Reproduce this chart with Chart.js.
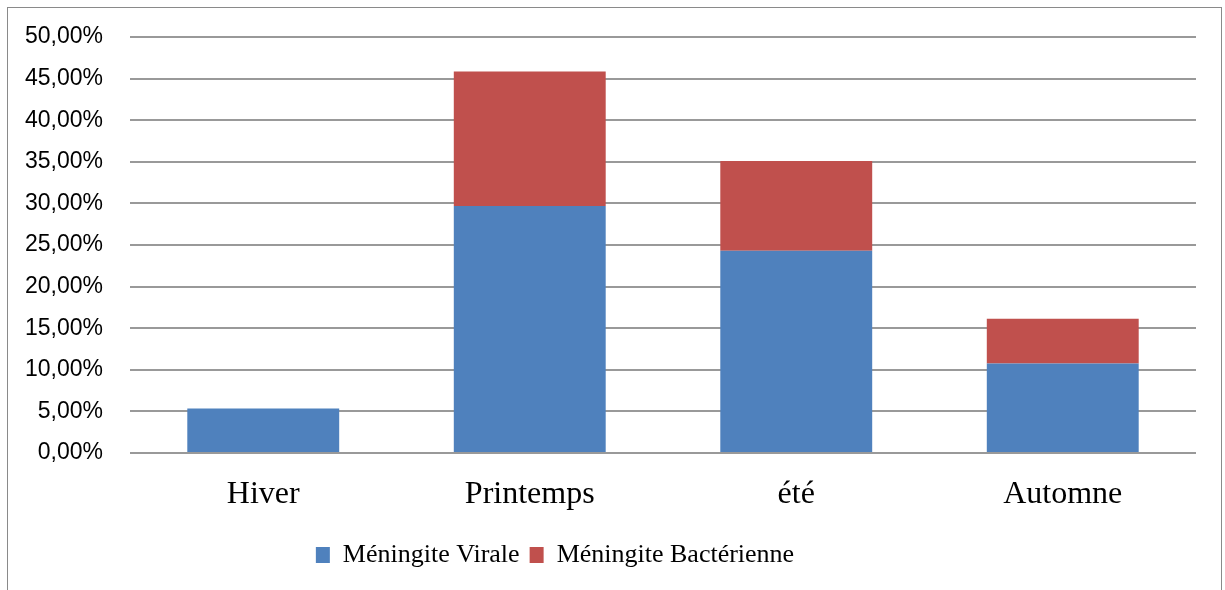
<!DOCTYPE html>
<html>
<head>
<meta charset="utf-8">
<script src="https://cdn.jsdelivr.net/npm/chart.js@4/dist/chart.umd.min.js"></script>
<style>
  html, body { margin: 0; padding: 0; background: #fff; }
  #wrap { position: relative; width: 1225px; height: 590px; overflow: hidden; }
  #frame {
    position: absolute; left: 7px; top: 7px; width: 1215px; height: 600px;
    border: 1.5px solid #8a8a8a; box-sizing: border-box;
  }
  #c { position: absolute; left: 0; top: 0; }
</style>
</head>
<body>
<div id="wrap">
  <div id="frame"></div>
  <canvas id="c" width="1225" height="590"></canvas>
</div>
<script>
// Saisons et répartition des cas (en %)
const saisons = ['Hiver', 'Printemps', 'été', 'Automne'];
const virale = [5.35, 29.7, 24.3, 10.75];
const bacterienne = [0, 16.15, 10.8, 5.4];
const yTicks = [0, 5, 10, 15, 20, 25, 30, 35, 40, 45, 50];

const fmtPct = v => v.toFixed(2).replace('.', ',') + '%';

// Décale la légende horizontalement après la mise en page
const legendShift = {
  id: 'legendShift',
  afterLayout(chart) {
    const lg = chart.legend;
    if (lg) { lg.left -= 43; lg.right -= 43; }
  }
};

new Chart(document.getElementById('c'), {
  type: 'bar',
  data: {
    labels: saisons,
    datasets: [
      { label: 'Méningite Virale', data: virale, backgroundColor: '#4F81BD', borderWidth: 0 },
      { label: 'Méningite Bactérienne', data: bacterienne, backgroundColor: '#C0504D', borderWidth: 0 }
    ]
  },
  options: {
    responsive: false,
    animation: false,
    layout: { padding: { top: 37, right: 29, bottom: 12, left: 0 } },
    datasets: { bar: { categoryPercentage: 1, barPercentage: 0.57 } },
    plugins: {
      tooltip: { enabled: false },
      legend: {
        position: 'bottom',
        align: 'center',
        labels: {
          boxWidth: 14,
          boxHeight: 16,
          padding: 10,
          color: '#000',
          font: { family: '"Liberation Serif", "Times New Roman", serif', size: 26 }
        }
      }
    },
    scales: {
      x: {
        stacked: true,
        grid: { display: false },
        border: { display: false },
        ticks: {
          color: '#000',
          padding: 14,
          font: { family: '"Liberation Serif", "Times New Roman", serif', size: 32 }
        },
        afterFit(scale) { scale.height = 79; }
      },
      y: {
        stacked: true,
        min: 0,
        max: 50,
        afterBuildTicks(scale) { scale.ticks = yTicks.map(v => ({ value: v })); },
        grid: { color: '#999', lineWidth: 2, drawTicks: false },
        border: { display: false },
        ticks: {
          color: '#000',
          padding: 27,
          font: { family: '"Liberation Sans", Arial, sans-serif', size: 23 },
          callback: v => fmtPct(v)
        },
        afterFit(scale) {
          scale.width = 130;
          scale.paddingTop = 0;
          scale.paddingBottom = 0;
        }
      }
    }
  },
  plugins: [legendShift]
});
</script>
</body>
</html>
